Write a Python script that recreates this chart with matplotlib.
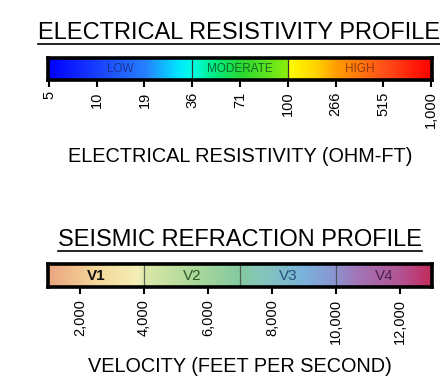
import numpy as np
import matplotlib.pyplot as plt
from matplotlib.colors import LinearSegmentedColormap
from matplotlib.lines import Line2D

plt.rcParams['font.family'] = ['Liberation Sans', 'DejaVu Sans']

# Resistivity scale (ohm-ft), ticks evenly spaced
res_ticks = ['5', '10', '19', '36', '71', '100', '266', '515', '1,000']
res_zones = ['LOW', 'MODERATE', 'HIGH']
res_zone_bounds = [(0, 3), (3, 5), (5, 8)]   # tick index ranges
res_zone_colors = ['#1a2a7a', '#0b4a22', '#7a2a10']

# Seismic velocity (ft/s)
vel_ticks = [2000, 4000, 6000, 8000, 10000, 12000]
vel_zones = ['V1', 'V2', 'V3', 'V4']
vel_zone_bounds = [(1000, 4000), (4000, 7000), (7000, 10000), (10000, 13000)]
vel_zone_colors = ['#111111', '#2f5a2a', '#27527a', '#4a2350']

W, H = 440, 385
fig = plt.figure(figsize=(W / 100, H / 100), dpi=100)


def px_axes(x0, y0, x1, y1):
    return fig.add_axes([x0 / W, 1 - y1 / H, (x1 - x0) / W, (y1 - y0) / H])


def title_underlined(text, xc, y, yline, size):
    t = fig.text(xc / W, 1 - y / H, text, ha='center', va='baseline', fontsize=size)
    fig.canvas.draw()
    bb = t.get_window_extent().transformed(fig.transFigure.inverted())
    yl = 1 - yline / H
    fig.add_artist(Line2D([bb.x0, bb.x1], [yl, yl], color='black', lw=1.2,
                          transform=fig.transFigure))


def style_bar(ax):
    for s in ax.spines.values():
        s.set_linewidth(2.6)
        s.set_color('black')
    ax.set_yticks([])
    ax.tick_params(axis='x', direction='out', length=5, width=1.5, pad=3.5,
                   labelrotation=90, labelsize=10.5)


# ---- electrical resistivity ----
cmap_res = LinearSegmentedColormap.from_list('res', [
    (0.0, (0.0, 0.0, 1.0)),
    (1 / 8, (0.1, 0.25, 1.0)),
    (2 / 8, (0.15, 0.5, 1.0)),
    (2.7 / 8, (0.0, 0.9, 1.0)),
    (3 / 8, (0.0, 1.0, 0.9)),
    (3.4 / 8, (0.0, 0.93, 0.55)),
    (4 / 8, (0.15, 0.85, 0.2)),
    (4.99 / 8, (0.55, 0.93, 0.05)),
    (5 / 8, (1.0, 1.0, 0.0)),
    (5.6 / 8, (1.0, 0.82, 0.0)),
    (6 / 8, (1.0, 0.62, 0.0)),
    (7 / 8, (1.0, 0.32, 0.1)),
    (1.0, (1.0, 0.0, 0.0)),
])

ax1 = px_axes(48, 57.5, 432, 79.5)
ax1.imshow(np.linspace(0, 1, 512)[None, :], cmap=cmap_res, aspect='auto',
           extent=(0, len(res_ticks) - 1, 0, 1))
ax1.set_xlim(-0.02, len(res_ticks) - 1 + 0.02)
ax1.set_ylim(0, 1)
for (a, b), name, c in zip(res_zone_bounds, res_zones, res_zone_colors):
    ax1.text((a + b) / 2, 0.5, name, ha='center', va='center', fontsize=8.5,
             color=c, alpha=0.8)
    if a > 0:
        ax1.axvline(a, color='#333333', lw=0.9)
ax1.set_xticks(range(len(res_ticks)))
ax1.set_xticklabels(res_ticks)
style_bar(ax1)

title_underlined('ELECTRICAL RESISTIVITY PROFILE', 239, 39, 43.5, 17)
fig.text(240 / W, 1 - 162 / H, 'ELECTRICAL RESISTIVITY (OHM-FT)', ha='center',
         va='baseline', fontsize=14.3)

# ---- seismic refraction ----
cmap_vel = LinearSegmentedColormap.from_list('vel', [
    (0.0, (0.92, 0.65, 0.50)),
    (1500 / 12000, (0.96, 0.84, 0.60)),
    (2800 / 12000, (0.96, 0.94, 0.72)),
    (3000 / 12000, (0.86, 0.91, 0.66)),
    (4500 / 12000, (0.68, 0.85, 0.60)),
    (6000 / 12000, (0.52, 0.79, 0.63)),
    (6600 / 12000, (0.52, 0.78, 0.72)),
    (8000 / 12000, (0.48, 0.70, 0.86)),
    (9000 / 12000, (0.55, 0.58, 0.82)),
    (9600 / 12000, (0.63, 0.47, 0.72)),
    (11000 / 12000, (0.70, 0.33, 0.58)),
    (1.0, (0.76, 0.17, 0.36)),
])

ax2 = px_axes(48, 264, 432, 287)
lo, hi = vel_zone_bounds[0][0], vel_zone_bounds[-1][1]
ax2.imshow(np.linspace(0, 1, 512)[None, :], cmap=cmap_vel, aspect='auto',
           extent=(lo, hi, 0, 1))
ax2.set_xlim(lo, hi)
ax2.set_ylim(0, 1)
for i, ((a, b), name, c) in enumerate(zip(vel_zone_bounds, vel_zones, vel_zone_colors)):
    ax2.text((a + b) / 2, 0.5, name, ha='center', va='center', fontsize=11,
             color=c, fontweight='bold' if i == 0 else 'normal')
    if a > lo:
        ax2.axvline(a, color='#444444', lw=0.9, alpha=0.8)
ax2.set_xticks(vel_ticks)
ax2.set_xticklabels([f'{v:,}' for v in vel_ticks])
style_bar(ax2)

title_underlined('SEISMIC REFRACTION PROFILE', 240, 246, 251, 17)
fig.text(240 / W, 1 - 372 / H, 'VELOCITY (FEET PER SECOND)', ha='center',
         va='baseline', fontsize=14.3)

fig.savefig('out.png', dpi=100)
